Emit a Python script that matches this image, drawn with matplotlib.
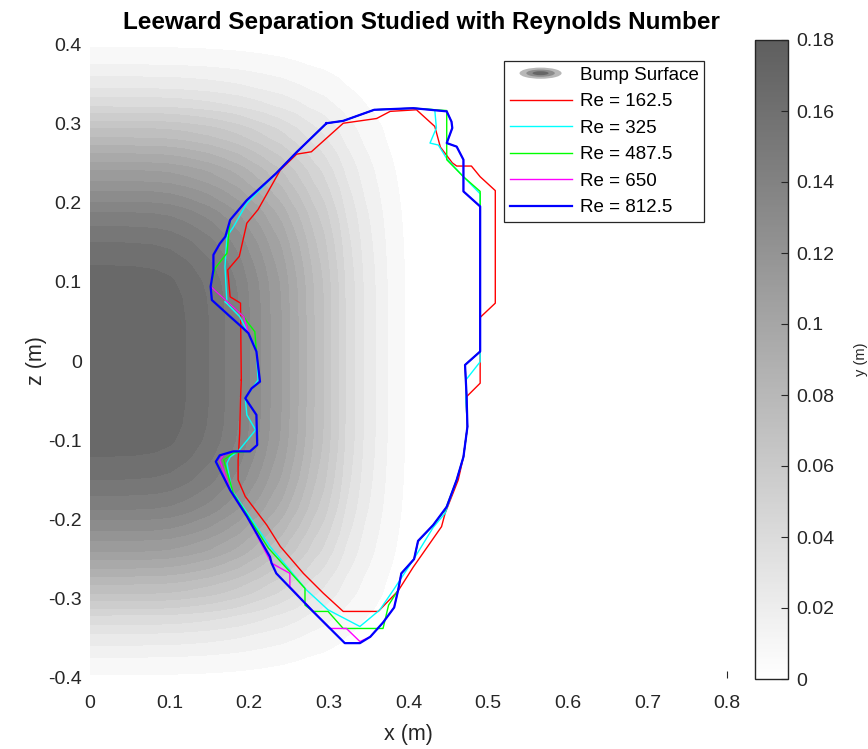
import numpy as np
import matplotlib
matplotlib.use("Agg")
import matplotlib.pyplot as plt
from matplotlib.colors import LinearSegmentedColormap, Normalize
from matplotlib.cm import ScalarMappable
from matplotlib.patches import Ellipse
from matplotlib.legend_handler import HandlerBase
from matplotlib.lines import Line2D
from matplotlib.ticker import FormatStrFormatter

plt.rcParams['font.family'] = ['Liberation Sans', 'DejaVu Sans']

# ---- bump surface: height profile along the centre lines (m) ----
bump_r = [0.00, 0.05, 0.08, 0.10, 0.12, 0.149, 0.169, 0.187, 0.200, 0.214, 0.226,
          0.240, 0.250, 0.261, 0.271, 0.281, 0.293, 0.302, 0.312, 0.320, 0.332,
          0.343, 0.358, 0.373, 0.395, 0.42]
bump_h = [0.1745, 0.1743, 0.1735, 0.1718, 0.168, 0.160, 0.152, 0.144, 0.136, 0.128,
          0.120, 0.112, 0.104, 0.096, 0.088, 0.080, 0.072, 0.064, 0.056, 0.048,
          0.040, 0.032, 0.024, 0.016, 0.008, 0.0]
contour_step = 0.008
cbar_ticks = [0, 0.02, 0.04, 0.06, 0.08, 0.10, 0.12, 0.14, 0.16, 0.18]

# ---- separation lines (x, z) for each Reynolds number ----
re_labels = ["Re = 162.5", "Re = 325", "Re = 487.5", "Re = 650", "Re = 812.5"]

sep_162 = [(0.190, -0.024), (0.189, 0.073), (0.176, 0.081), (0.173, 0.115), (0.1875, 0.132),
           (0.197, 0.174), (0.211, 0.191), (0.239, 0.241), (0.2595, 0.261), (0.278, 0.264),
           (0.318, 0.300), (0.360, 0.306), (0.377, 0.315), (0.410, 0.317), (0.433, 0.296),
           (0.440, 0.270), (0.455, 0.250), (0.4605, 0.246), (0.479, 0.246), (0.490, 0.2325),
           (0.509, 0.215), (0.509, 0.073), (0.490, 0.055), (0.490, -0.028), (0.472, -0.046),
           (0.474, -0.083), (0.469, -0.121), (0.4625, -0.150), (0.446, -0.192), (0.4415, -0.209),
           (0.406, -0.260), (0.387, -0.290), (0.362, -0.316), (0.318, -0.316), (0.293, -0.293),
           (0.268, -0.268), (0.239, -0.234), (0.222, -0.207), (0.195, -0.171), (0.186, -0.150),
           (0.186, -0.125), (0.188, -0.091), (0.189, -0.049), (0.190, -0.024)]

sep_325 = [(0.172, 0.073), (0.1695, 0.119), (0.172, 0.157), (0.180, 0.169), (0.197, 0.199),
           (0.234, 0.237), (0.260, 0.264), (0.297, 0.300), (0.318, 0.303), (0.357, 0.317),
           (0.406, 0.319), (0.433, 0.317), (0.435, 0.294), (0.427, 0.275), (0.4375, 0.2725),
           (0.448, 0.2555), (0.469, 0.2325), (0.490, 0.211), (0.490, -0.001), (0.472, -0.024),
           (0.472, -0.049), (0.474, -0.083), (0.469, -0.121), (0.4605, -0.150), (0.446, -0.192),
           (0.431, -0.210), (0.406, -0.251), (0.381, -0.289), (0.364, -0.314), (0.339, -0.335),
           (0.299, -0.314), (0.272, -0.289), (0.226, -0.234), (0.178, -0.163), (0.172, -0.129),
           (0.176, -0.121), (0.186, -0.114), (0.208, -0.087), (0.197, -0.068), (0.195, -0.047),
           (0.211, -0.024), (0.209, 0.014), (0.197, 0.039), (0.188, 0.056), (0.1695, 0.075),
           (0.172, 0.073)]

sep_487 = [(0.157, 0.117), (0.172, 0.136), (0.176, 0.178), (0.197, 0.203), (0.234, 0.237),
           (0.260, 0.264), (0.297, 0.300), (0.318, 0.303), (0.357, 0.317), (0.406, 0.319),
           (0.448, 0.316), (0.448, 0.254), (0.469, 0.2325), (0.490, 0.214), (0.490, 0.012),
           (0.471, -0.005), (0.473, -0.045), (0.474, -0.083), (0.469, -0.121), (0.4605, -0.150),
           (0.446, -0.188), (0.431, -0.207), (0.412, -0.228), (0.407, -0.250), (0.391, -0.268),
           (0.387, -0.289), (0.375, -0.308), (0.368, -0.3375), (0.318, -0.3375), (0.299, -0.316),
           (0.280, -0.316), (0.270, -0.308), (0.270, -0.287), (0.224, -0.236), (0.180, -0.167),
           (0.168, -0.125), (0.180, -0.116), (0.201, -0.114), (0.210, -0.106), (0.209, -0.068),
           (0.199, -0.053), (0.195, -0.047), (0.203, -0.0345), (0.2135, -0.026), (0.211, -0.005),
           (0.209, 0.012), (0.207, 0.037), (0.197, 0.050), (0.193, 0.056), (0.1515, 0.094),
           (0.157, 0.117)]

sep_650 = [(0.297, 0.300), (0.318, 0.303), (0.357, 0.317), (0.406, 0.319), (0.448, 0.315),
           (0.454, 0.302), (0.455, 0.294), (0.448, 0.275), (0.4605, 0.2705), (0.469, 0.254),
           (0.469, 0.214), (0.490, 0.195), (0.490, 0.012), (0.471, -0.005), (0.473, -0.045),
           (0.474, -0.083), (0.469, -0.121), (0.4605, -0.150), (0.448, -0.184), (0.431, -0.207),
           (0.412, -0.227), (0.407, -0.250), (0.391, -0.268), (0.387, -0.289), (0.382, -0.311),
           (0.368, -0.330), (0.352, -0.348), (0.339, -0.354), (0.322, -0.3375), (0.301, -0.3375),
           (0.251, -0.285), (0.251, -0.268), (0.228, -0.255), (0.197, -0.196), (0.176, -0.163),
           (0.163, -0.125), (0.168, -0.118), (0.180, -0.114), (0.201, -0.114), (0.210, -0.106),
           (0.209, -0.068), (0.199, -0.053), (0.195, -0.047), (0.203, -0.0345), (0.2135, -0.026),
           (0.211, -0.005), (0.209, 0.012), (0.199, 0.035), (0.193, 0.056), (0.1515, 0.094),
           (0.155, 0.115), (0.155, 0.134), (0.163, 0.148), (0.170, 0.157), (0.176, 0.178),
           (0.197, 0.203), (0.234, 0.237), (0.260, 0.264), (0.297, 0.300)]

sep_812 = [(0.297, 0.300), (0.318, 0.303), (0.357, 0.317), (0.406, 0.319), (0.448, 0.315),
           (0.454, 0.302), (0.455, 0.294), (0.448, 0.275), (0.4605, 0.2705), (0.469, 0.254),
           (0.469, 0.214), (0.490, 0.195), (0.490, 0.012), (0.471, -0.005), (0.473, -0.045),
           (0.474, -0.083), (0.469, -0.121), (0.4605, -0.150), (0.448, -0.184), (0.431, -0.207),
           (0.412, -0.227), (0.407, -0.250), (0.391, -0.268), (0.387, -0.289), (0.382, -0.311),
           (0.368, -0.330), (0.352, -0.348), (0.339, -0.356), (0.320, -0.356), (0.280, -0.316),
           (0.234, -0.268), (0.228, -0.255), (0.226, -0.247), (0.197, -0.196), (0.176, -0.163),
           (0.158, -0.127), (0.163, -0.119), (0.180, -0.114), (0.201, -0.114), (0.210, -0.106),
           (0.209, -0.068), (0.199, -0.053), (0.195, -0.047), (0.203, -0.0345), (0.2135, -0.026),
           (0.211, -0.005), (0.209, 0.012), (0.199, 0.035), (0.1905, 0.043), (0.176, 0.056),
           (0.153, 0.077), (0.1515, 0.094), (0.155, 0.115), (0.155, 0.134), (0.163, 0.148),
           (0.170, 0.157), (0.176, 0.178), (0.197, 0.203), (0.234, 0.237), (0.260, 0.264),
           (0.297, 0.300)]

separation_lines = [sep_162, sep_325, sep_487, sep_650, sep_812]
line_colors = ["#ff0000", "#00ffff", "#00ff00", "#ff00ff", "#0000ff"]
line_widths = [1.0, 1.0, 1.0, 1.0, 1.6]

# ---- figure ----
fig = plt.figure(figsize=(8.68, 7.49), dpi=100)
ax = fig.add_axes([90 / 868, 1 - 678 / 749, 637 / 868, 634 / 749])

cmap = LinearSegmentedColormap.from_list("bump", [(1, 1, 1), (0.37, 0.37, 0.37)])
norm = Normalize(vmin=0, vmax=0.18)

H = bump_h[0]
xg = np.linspace(-0.01, 0.79, 520)
zg = np.linspace(-0.41, 0.41, 520)
X, Z = np.meshgrid(xg, zg)
px = np.interp(np.abs(X), bump_r, bump_h) / H
pz = np.interp(np.abs(Z), bump_r, bump_h) / H
Y = H * px * pz

levels = list(np.arange(0, 0.1681, contour_step)) + [0.18]
band_colors = [cmap(norm(v)) for v in levels[:-1]]
cs = ax.contourf(X, Z, Y, levels=levels, colors=band_colors, zorder=1)
cs.set_edgecolor('face')
cs.set_linewidth(0.6)

for pts, c, lw in zip(separation_lines, line_colors, line_widths):
    arr = np.array(pts)
    ax.plot(arr[:, 0], arr[:, 1], color=c, lw=lw, zorder=3)

ax.set_xlim(0, 0.8)
ax.set_ylim(-0.4, 0.4)
ax.set_xticks(np.arange(0, 0.81, 0.1))
ax.set_yticks(np.arange(-0.4, 0.41, 0.1))
ax.set_xticklabels(['0', '0.1', '0.2', '0.3', '0.4', '0.5', '0.6', '0.7', '0.8'])
ax.set_yticklabels(['-0.4', '-0.3', '-0.2', '-0.1', '0', '0.1', '0.2', '0.3', '0.4'])
for s in ax.spines.values():
    s.set_visible(False)
ax.tick_params(direction='in', length=5, width=0.8, color='0.15', labelcolor='0.15',
               labelsize=14)
ax.tick_params(axis='x', pad=12)
ax.tick_params(axis='y', pad=6, length=0)
# the filled surface hides every tick mark except the last one on the x axis
for t in ax.xaxis.get_major_ticks()[:-1]:
    t.tick1line.set_visible(False)
ax.set_xlabel('x (m)', fontsize=15.5, color='0.15', labelpad=9)
ax.set_ylabel('z (m)', fontsize=15.5, color='0.15', labelpad=1)
ax.set_title('Leeward Separation Studied with Reynolds Number', fontsize=17.5,
             fontweight='bold', pad=11, x=(421 - 90) / 637)


class BumpHandler(HandlerBase):
    def create_artists(self, legend, orig_handle, xdescent, ydescent, width, height,
                       fontsize, trans):
        cx = 0.5 * width - xdescent
        cy = 0.5 * height - ydescent
        out = []
        for fw, fh, col in [(0.68, 0.85, '0.72'), (0.46, 0.55, '0.55'), (0.26, 0.3, '0.4')]:
            e = Ellipse((cx, cy), width * fw, height * fh, facecolor=col,
                        edgecolor='none', transform=trans)
            out.append(e)
        return out


bump_proxy = Ellipse((0, 0), 1, 1)
handles = [bump_proxy] + [Line2D([], [], color=c, lw=lw) for c, lw in zip(line_colors, line_widths)]
labels = ["Bump Surface"] + re_labels
leg = ax.legend(handles, labels, loc='upper left',
                bbox_to_anchor=(504 / 868, 1 - 61 / 749), bbox_transform=fig.transFigure,
                borderaxespad=0, fontsize=13.5, handlelength=3.3, handletextpad=0.45,
                labelspacing=0.5, borderpad=0.3, fancybox=False, framealpha=1,
                handler_map={Ellipse: BumpHandler()})
leg.get_frame().set_edgecolor('0.15')
leg.get_frame().set_linewidth(0.9)
leg.set_zorder(5)

# ---- colour bar ----
cax = fig.add_axes([755 / 868, 1 - 679 / 749, 33 / 868, 639 / 749])
sm = ScalarMappable(norm=norm, cmap=cmap)
cb = fig.colorbar(sm, cax=cax, ticks=cbar_ticks)
cb.ax.yaxis.set_major_formatter(FormatStrFormatter('%g'))
cb.ax.tick_params(direction='in', length=5, width=0.8, color='0.15', labelcolor='0.15',
                  labelsize=14, pad=6)
cb.outline.set_edgecolor('0.15')
cb.outline.set_linewidth(1.0)
cb.set_label('y (m)', fontsize=10.5, color='0.15', labelpad=14)

fig.savefig('out.png', dpi=100)
